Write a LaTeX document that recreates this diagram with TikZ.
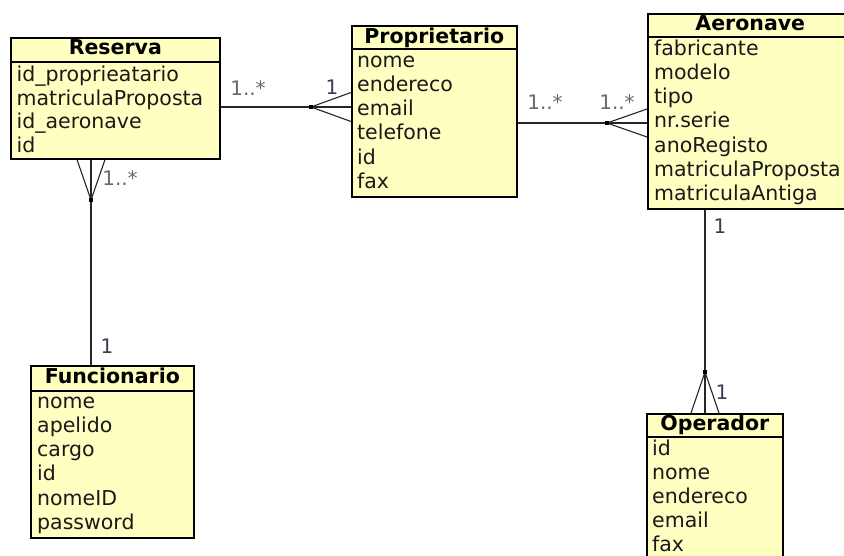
\documentclass[tikz,border=0pt]{standalone}
\usepackage{fontspec}
\setmainfont{DejaVu Sans}
\definecolor{boxfill}{RGB}{255,255,194}
\definecolor{txt}{RGB}{25,25,25}
\definecolor{lblstar}{RGB}{105,105,105}
\definecolor{lblone}{RGB}{60,60,80}
\begin{document}
\begin{tikzpicture}[x=1pt,y=-1pt,
  entity/.style={draw=black, line width=1.6pt, fill=boxfill, inner sep=0pt, anchor=north west},
  ttl/.style={font=\fontsize{20.5}{24}\selectfont\bfseries, text=black, anchor=base, inner sep=0pt},
  attr/.style={font=\fontsize{20.5}{24}\selectfont, text=txt, anchor=base west, inner sep=0pt},
  divider/.style={line width=1.4pt, draw=black},
  conn/.style={line width=1.4pt, draw=black!85},
  foot/.style={line width=1.1pt, draw=black!85},
  lstar/.style={font=\fontsize{20}{24}\selectfont, text=lblstar, inner sep=0pt},
  lone/.style={font=\fontsize{20}{24}\selectfont, text=lblone, inner sep=0pt},
]
\useasboundingbox[fill=white] (0,0) rectangle (844,555);

% ---------- Reserva
\node[entity, minimum width=209pt, minimum height=121pt] (res) at (10,37) {};
\draw[divider] ([yshift=-25pt]res.north west) -- ([yshift=-25pt]res.north east);
\node[ttl] (resT) at ([yshift=-17.5pt]res.north) {Reserva};
\foreach \t [count=\i from 0] in {id\_proprieatario, matriculaProposta, id\_aeronave, id}
  \node[attr] (res\i) at (16.5, {81.5+23.5*\i}) {\t};

% ---------- Proprietario
\node[entity, minimum width=165pt, minimum height=171pt] (prop) at (351,25) {};
\draw[divider] ([yshift=-24pt]prop.north west) -- ([yshift=-24pt]prop.north east);
\node[ttl] (propT) at ([yshift=-18pt]prop.north) {Proprietario};
\foreach \t [count=\i from 0] in {nome, endereco, email, telefone, id, fax}
  \node[attr] (prop\i) at (357, {67.3+24.2*\i}) {\t};

% ---------- Aeronave
\node[entity, minimum width=205pt, minimum height=195pt] (aer) at (647,13) {};
\draw[divider] ([yshift=-24pt]aer.north west) -- ([yshift=-24pt]aer.north east);
\node[ttl] (aerT) at ([yshift=-17pt]aer.north) {Aeronave};
\foreach \t [count=\i from 0] in {fabricante, modelo, tipo, nr.serie, anoRegisto, matriculaProposta, matriculaAntiga}
  \node[attr] (aer\i) at (654, {55+24.3*\i}) {\t};

% ---------- Funcionario
\node[entity, minimum width=163pt, minimum height=172pt] (fun) at (30,365) {};
\draw[divider] ([yshift=-26pt]fun.north west) -- ([yshift=-26pt]fun.north east);
\node[ttl] (funT) at ([yshift=-18pt]fun.north) {Funcionario};
\foreach \t [count=\i from 0] in {nome, apelido, cargo, id, nomeID, password}
  \node[attr] (fun\i) at (37, {408.3+24.2*\i}) {\t};

% ---------- Operador
\node[entity, minimum width=136pt, minimum height=160pt] (op) at (646,413) {};
\draw[divider] ([yshift=-24pt]op.north west) -- ([yshift=-24pt]op.north east);
\node[ttl] (opT) at ([yshift=-17pt]op.north) {Operador};
\foreach \t [count=\i from 0] in {id, nome, endereco, email, fax}
  \node[attr] (op\i) at (652, {455+24.2*\i}) {\t};

% ---------- Reserva -- Proprietario
\coordinate (f1) at (311,107);
\coordinate (a1) at (res.east |- f1);
\coordinate (b1) at (prop.west |- f1);
\draw[conn] (a1) -- (b1);
\draw[foot] ([yshift=14.5pt]b1) -- (f1) -- ([yshift=-14.5pt]b1);
\fill[black] ([shift={(-1.8pt,-1.8pt)}]f1) rectangle ([shift={(1.8pt,1.8pt)}]f1);

% ---------- Proprietario -- Aeronave
\coordinate (f2) at (607,123);
\coordinate (a2) at (prop.east |- f2);
\coordinate (b2) at (aer.west |- f2);
\draw[conn] (a2) -- (b2);
\draw[foot] ([yshift=14pt]b2) -- (f2) -- ([yshift=-14pt]b2);
\fill[black] ([shift={(-1.8pt,-1.8pt)}]f2) rectangle ([shift={(1.8pt,1.8pt)}]f2);

% ---------- Reserva -- Funcionario
\coordinate (f3) at (91,200);
\coordinate (a3) at (f3 |- res.south);
\coordinate (b3) at (f3 |- fun.north);
\draw[conn] (a3) -- (b3);
\draw[foot] ([xshift=-14pt]a3) -- (f3) -- ([xshift=14pt]a3);
\fill[black] ([shift={(-1.8pt,-1.8pt)}]f3) rectangle ([shift={(1.8pt,1.8pt)}]f3);

% ---------- Aeronave -- Operador
\coordinate (f4) at (705,372);
\coordinate (a4) at (f4 |- aer.south);
\coordinate (b4) at (f4 |- op.north);
\draw[conn] (a4) -- (b4);
\draw[foot] ([xshift=-14pt]b4) -- (f4) -- ([xshift=14pt]b4);
\fill[black] ([shift={(-1.8pt,-1.8pt)}]f4) rectangle ([shift={(1.8pt,1.8pt)}]f4);

% ---------- multiplicities
\node[lstar] (m1) at (248,88) {1..*};
\node[lone]  (m2) at (332,87) {1};
\node[lstar] (m3) at (545,102) {1..*};
\node[lstar] (m4) at (617,102) {1..*};
\node[lstar] (m5) at (120,178) {1..*};
\node[lone]  (m6) at (107,346) {1};
\node[lone]  (m7) at (720,226) {1};
\node[lone]  (m8) at (722,392) {1};
\end{tikzpicture}
\end{document}
